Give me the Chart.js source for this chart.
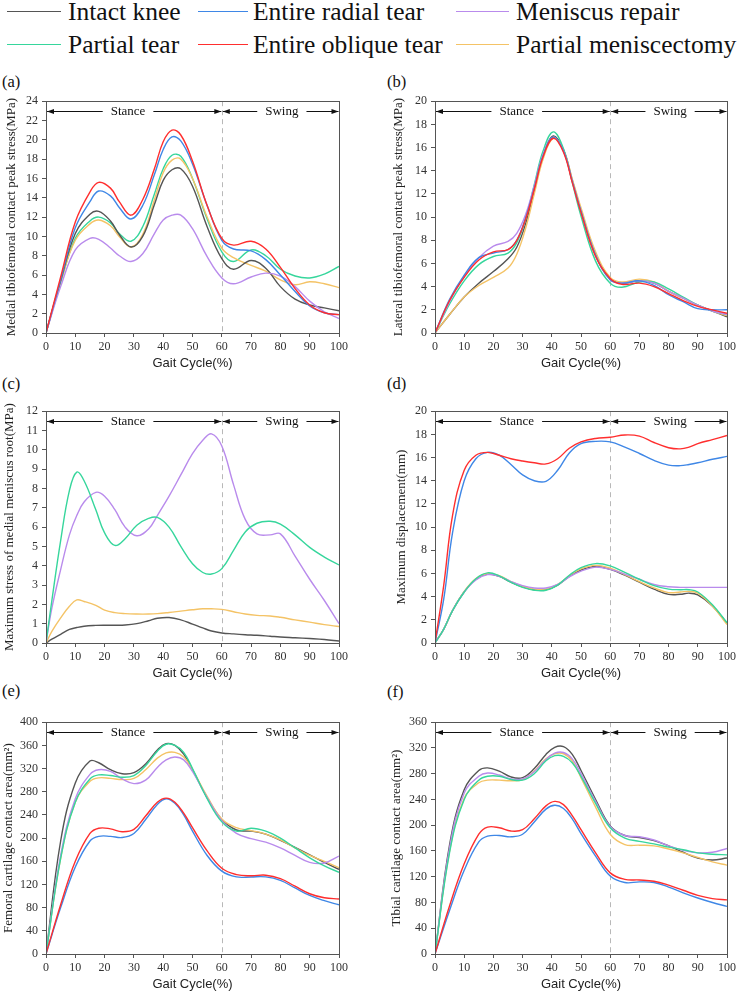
<!DOCTYPE html>
<html><head><meta charset="utf-8">
<script src="https://cdn.jsdelivr.net/npm/chart.js@4.4.0/dist/chart.umd.min.js"></script>
<style>
body{margin:0;background:#fff;width:739px;height:992px;position:relative;overflow:hidden;font-family:'Liberation Serif','Times New Roman',serif;}
.lg{position:absolute;font-size:25.5px;line-height:25.5px;color:#111;white-space:nowrap;}
.ln{position:absolute;height:0;border-top:1.5px solid;}
.pl{position:absolute;font-size:16.5px;line-height:16.5px;color:#111;}
canvas{position:absolute;}
</style></head><body>
<div id="legend"></div>
<div class="pl" style="left:2px;top:74px">(a)</div>
<div class="pl" style="left:387px;top:74px">(b)</div>
<div class="pl" style="left:2px;top:376px">(c)</div>
<div class="pl" style="left:387px;top:376px">(d)</div>
<div class="pl" style="left:2px;top:683px">(e)</div>
<div class="pl" style="left:387px;top:684px">(f)</div>
<canvas id="ca" width="370" height="285" style="left:0;top:90px"></canvas>
<canvas id="cb" width="354" height="285" style="left:385px;top:90px"></canvas>
<canvas id="cc" width="370" height="285" style="left:0;top:400px"></canvas>
<canvas id="cd" width="354" height="285" style="left:385px;top:400px"></canvas>
<canvas id="ce" width="370" height="285" style="left:0;top:711px"></canvas>
<canvas id="cf" width="354" height="285" style="left:385px;top:711px"></canvas>
<script>
// ---- series ----
const seriesNames = ['Intact knee','Entire radial tear','Meniscus repair','Partial tear','Entire oblique tear','Partial meniscectomy'];
const seriesColors = ['#555555','#3f87e6','#b98bec','#36d69c','#ff2e2e','#f4c366'];

// ---- x categories (gait cycle %) ----
const gridA = [0,5,10,15,18,22,25,29,33,37,40,43,46,50,55,60,64,70,75,80,85,90,95,100];
const gridB = [0,5,10,15,20,25,28,31,34,37,40.5,44,47,50,55,60,64,70,75,80,85,90,95,100];
const gridC = [0,2,5,8,10.5,13,17,20,23.5,27,31,35,38,42,46,50,53.5,56.5,60,64,68,72,76.5,80,85,90,95,100];
const gridD = [0,3,6,10,14,18,22,26,30,34,38,42,46,50,55,60,65,70,75,80,84,87,90,95,100];
const gridE = [0,5,10,15,18,22,26,30,34,38,41,44,47,50,55,60,65,70,75,80,85,90,95,100];
const gridF = [0,5,10,15,18,22,26,30,34,38,41,44,47,50,55,60,65,70,75,80,85,90,95,100];

// (a) Medial tibiofemoral contact peak stress (MPa)
const aIntact  = [0,5.4,10.3,12.3,12.6,11.6,10.2,8.9,10.0,13.3,15.8,16.9,17.0,15.2,11.0,7.7,6.6,7.5,6.7,4.8,3.5,2.9,2.6,2.3];
const aRadial  = [0,5.5,10.9,13.6,14.7,14.2,13.0,11.8,13.2,16.4,19.0,20.3,19.9,17.5,13.2,9.6,8.7,8.5,7.6,6.0,4.3,2.8,2.1,1.9];
const aRepair  = [0,4.8,8.6,9.8,9.7,8.8,8.0,7.4,8.2,10.3,11.7,12.2,12.2,10.8,7.9,5.7,5.1,5.8,6.2,5.9,4.8,3.3,2.2,1.5];
const aPartial = [0,5.2,9.8,11.6,12.0,11.4,10.3,9.5,11.0,14.4,17.0,18.4,18.3,16.0,11.8,8.4,7.4,8.6,8.0,6.6,5.9,5.7,6.1,6.9];
const aOblique = [0,5.8,11.5,14.6,15.6,15.0,13.6,12.2,13.8,17.0,19.8,21.0,20.5,17.8,13.2,9.8,9.1,9.5,8.7,6.8,4.6,2.9,2.1,1.9];
const aMenisc  = [0,5.3,9.6,11.3,11.7,11.1,10.0,8.9,10.2,13.8,16.6,17.9,18.0,16.0,12.0,8.8,7.8,7.0,6.4,5.5,5.0,5.3,5.1,4.7];

// (b) Lateral tibiofemoral contact peak stress (MPa)
const bIntact  = [0,1.6,3.1,4.3,5.3,6.4,7.4,9.4,12.3,15.2,17.0,15.8,13.2,10.6,6.8,4.7,4.3,4.5,4.3,3.6,3.0,2.4,1.9,1.4];
const bRadial  = [0,2.9,5.0,6.5,6.9,7.2,8.0,9.9,12.5,15.3,16.9,15.7,13.1,10.5,6.7,4.6,4.3,4.5,4.1,3.3,2.7,2.1,2.0,2.0];
const bRepair  = [0,2.7,4.9,6.5,7.5,7.9,8.6,10.2,12.7,15.4,16.9,15.7,13.1,10.5,6.7,4.6,4.3,4.5,4.3,3.6,3.0,2.4,1.9,1.6];
const bPartial = [0,2.5,4.5,5.9,6.6,6.9,7.8,9.8,12.8,15.7,17.35,15.9,13.0,10.1,6.2,4.3,3.95,4.4,4.4,3.8,3.1,2.4,1.9,1.6];
const bOblique = [0,2.8,4.8,6.3,7.0,7.2,8.0,9.8,12.4,15.2,16.8,15.6,13.0,10.4,6.6,4.7,4.2,4.3,4.0,3.4,2.8,2.3,2.0,1.7];
const bMenisc  = [0,1.6,3.1,4.1,4.8,5.6,6.8,9.0,12.0,15.0,16.8,15.8,13.3,10.8,7.0,4.8,4.4,4.65,4.4,3.6,3.0,2.4,1.9,1.5];

// (c) Maximum stress of medial meniscus root (MPa)
const cIntact  = [0,0.2,0.45,0.7,0.8,0.87,0.91,0.92,0.92,0.93,1.0,1.15,1.28,1.32,1.2,0.98,0.78,0.62,0.52,0.47,0.43,0.4,0.35,0.31,0.27,0.23,0.18,0.1];
const cRepair  = [0,1.8,3.8,5.6,6.6,7.3,7.8,7.6,6.9,6.0,5.55,5.9,6.6,7.6,8.7,9.8,10.5,10.83,10.2,8.2,6.4,5.65,5.6,5.65,4.5,3.3,2.2,1.0];
const cPartial = [0,2.2,5.3,7.9,8.85,8.4,6.9,5.7,5.05,5.4,6.1,6.45,6.5,6.0,5.0,4.1,3.65,3.57,3.85,4.8,5.75,6.2,6.3,6.15,5.6,4.95,4.45,4.04];
const cMenisc  = [0,0.6,1.3,1.9,2.23,2.15,1.95,1.7,1.57,1.52,1.5,1.5,1.52,1.58,1.65,1.72,1.77,1.77,1.74,1.62,1.5,1.43,1.4,1.33,1.2,1.08,0.95,0.85];

// (d) Maximum displacement (mm)
const dIntact  = [0,1.2,2.8,4.4,5.5,5.95,5.75,5.25,4.85,4.6,4.6,5.0,5.75,6.3,6.6,6.35,5.85,5.25,4.65,4.2,4.2,4.3,4.15,3.2,1.7];
const dRadial  = [0,3.8,9.5,14.0,15.9,16.45,16.2,15.4,14.5,14.0,13.95,14.9,16.4,17.2,17.4,17.35,16.9,16.35,15.75,15.35,15.3,15.4,15.55,15.85,16.1];
const dRepair  = [0,1.2,2.8,4.4,5.45,5.9,5.75,5.3,4.95,4.75,4.75,5.05,5.7,6.2,6.55,6.35,5.95,5.5,5.05,4.85,4.8,4.8,4.8,4.8,4.8];
const dPartial = [0,1.2,2.8,4.4,5.55,6.05,5.8,5.25,4.8,4.55,4.55,5.0,5.85,6.5,6.85,6.65,6.1,5.5,4.95,4.65,4.6,4.6,4.4,3.3,1.75];
const dOblique = [0,5.0,11.0,14.9,16.2,16.45,16.2,15.9,15.7,15.55,15.45,15.9,16.8,17.35,17.65,17.75,17.95,17.85,17.3,16.85,16.75,16.9,17.2,17.55,17.9];
const dMenisc  = [0,1.2,2.8,4.45,5.55,6.0,5.8,5.3,4.9,4.65,4.65,5.05,5.8,6.4,6.7,6.45,5.9,5.3,4.75,4.35,4.4,4.45,4.3,3.2,1.6];

// (e) Femoral cartilage contact area (mm²)
const eIntact  = [0,195,295,333,330,318,311,313,328,352,363,360,345,318,270,232,214,212,207,196,184,171,158,146];
const eRadial  = [0,80,150,195,203,203,201,208,232,258,268,260,240,212,170,143,133,133,133,127,114,101,92,85];
const eRepair  = [0,170,268,310,318,315,302,294,300,322,335,340,335,315,270,230,208,199,193,183,170,158,157,169];
const ePartial = [0,165,262,302,309,308,305,308,325,350,362,360,348,320,268,228,212,217,212,200,183,166,152,141];
const eOblique = [0,85,160,208,217,216,211,215,238,262,269,262,243,218,178,148,137,135,136,130,117,104,97,95];
const eMenisc  = [0,165,262,298,304,303,301,303,318,338,347,348,340,318,272,233,218,213,207,197,183,170,160,149];

// (f) Tibial cartilage contact area (mm²)
const fIntact  = [0,170,255,285,289,284,275,274,288,310,321,322,310,285,240,199,184,181,176,168,158,149,146,149];
const fRadial  = [0,68,130,174,183,184,182,186,205,225,231,226,210,187,152,121,111,112,111,104,95,87,80,74];
const fRepair  = [0,165,250,276,281,278,272,272,283,302,312,313,303,280,237,198,184,182,177,168,161,157,158,164];
const fPartial = [0,158,240,270,276,276,271,270,280,300,308,307,297,276,234,196,180,175,171,166,162,157,155,154];
const fOblique = [0,75,140,186,197,196,191,193,210,230,237,232,215,193,157,126,116,115,113,107,99,91,86,84];
const fMenisc  = [0,160,242,266,270,270,269,271,284,303,311,311,300,274,228,186,170,169,168,163,157,150,143,138];

// ---- axis ticks ----
const xTicks = [0,10,20,30,40,50,60,70,80,90,100];
const phaseBoundary = 60;

// ---- legend ----
(function(){
  const lg = document.getElementById('legend');
  const cols = [{lx:7,lw:54,tx:68},{lx:198,lw:50,tx:253},{lx:456,lw:53,tx:516}];
  const rows = [{ly:11,ty:-1.4},{ly:44,ty:31.6}];
  const order = [[0,1,2],[3,4,5]];
  order.forEach((r,ri)=>r.forEach((si,ci)=>{
    const l=document.createElement('div'); l.className='ln';
    l.style.cssText=`left:${cols[ci].lx}px;top:${rows[ri].ly}px;width:${cols[ci].lw}px;border-color:${seriesColors[si]}`;
    lg.appendChild(l);
    const t=document.createElement('div'); t.className='lg'; t.textContent=seriesNames[si];
    t.style.left=cols[ci].tx+'px'; t.style.top=rows[ri].ty+'px';
    lg.appendChild(t);
  }));
})();

function drawArrow(ctx,x1,x2,y,label,cx){
  ctx.font='13px "Liberation Serif"';
  const w=ctx.measureText(label).width, g=8, h=7, hh=2.5;
  ctx.strokeStyle='#111'; ctx.fillStyle='#111'; ctx.lineWidth=1;
  ctx.beginPath();
  ctx.moveTo(x1,y); ctx.lineTo(cx-w/2-g,y);
  ctx.moveTo(cx+w/2+g,y); ctx.lineTo(x2,y);
  ctx.stroke();
  ctx.beginPath(); ctx.moveTo(x1,y); ctx.lineTo(x1+h,y-hh); ctx.lineTo(x1+h,y+hh); ctx.closePath(); ctx.fill();
  ctx.beginPath(); ctx.moveTo(x2,y); ctx.lineTo(x2-h,y-hh); ctx.lineTo(x2-h,y+hh); ctx.closePath(); ctx.fill();
  ctx.textAlign='center'; ctx.textBaseline='middle';
  ctx.fillText(label,cx,y+0.5);
}

const deco = {
  id:'deco',
  beforeDatasetsDraw(chart){
    const {ctx, chartArea:a, scales:{x}} = chart;
    const xp = Math.round(x.getPixelForValue(phaseBoundary))+0.5;
    ctx.save();
    ctx.strokeStyle='#b8b8b8'; ctx.lineWidth=1; ctx.setLineDash([5,4]);
    ctx.beginPath(); ctx.moveTo(xp,a.top); ctx.lineTo(xp,a.bottom); ctx.stroke();
    ctx.restore();
  },
  afterDatasetsDraw(chart){
    const {ctx, chartArea:a, scales:{x}} = chart;
    const xp = x.getPixelForValue(phaseBoundary);
    ctx.save();
    ctx.strokeStyle='#555'; ctx.lineWidth=1;
    ctx.strokeRect(Math.round(a.left)+0.5, Math.round(a.top)+0.5, Math.round(a.right-a.left), Math.round(a.bottom-a.top));
    const y = Math.round(a.top)+10.5;
    drawArrow(ctx, x.getPixelForValue(0)+1, xp-0.5, y, 'Stance', x.getPixelForValue(28));
    drawArrow(ctx, xp+1, x.getPixelForValue(100)-0.5, y, 'Swing', x.getPixelForValue(80.5));
    ctx.restore();
  }
};

function makeChart(id, grid, list, yMax, yStep, yTitle, yWidth, titlePad){
  const datasets = list.map(([si,vals])=>({
    label: seriesNames[si],
    data: grid.map((xv,i)=>({x:xv,y:vals[i]})),
    borderColor: seriesColors[si],
    borderWidth: 1.4,
    pointRadius: 0,
    tension: 0.4,
    fill:false
  }));
  const tickFont = {family:'Liberation Serif', size:12};
  return new Chart(document.getElementById(id), {
    type:'line',
    data:{datasets},
    plugins:[deco],
    options:{
      responsive:false, animation:false, devicePixelRatio:1,
      layout:{padding:{left:0, top:8, right: (id==='ca'||id==='cc'||id==='ce')?31:12, bottom:0}},
      plugins:{legend:{display:false}, tooltip:{enabled:false}},
      scales:{
        x:{type:'linear', min:0, max:100,
           afterBuildTicks(s){ s.ticks = xTicks.map(v=>({value:v})); },
           ticks:{color:'#333', font:tickFont, padding:3, maxRotation:0, autoSkip:false},
           grid:{drawOnChartArea:false, drawTicks:true, tickLength:4, color:'#555'},
           border:{display:true, color:'#555'},
           title:{display:true, text:'Gait Cycle(%)', color:'#222', font:{family:'Liberation Sans', size:13}, padding:{top:0,bottom:4}},
           afterFit(s){ s.height = 42; }
        },
        y:{min:0, max:yMax,
           ticks:{stepSize:yStep, color:'#333', font:tickFont, padding:4},
           grid:{drawOnChartArea:false, drawTicks:true, tickLength:4, color:'#555'},
           border:{display:true, color:'#555'},
           title:{display:true, text:yTitle, color:'#222', font:{family:'Liberation Serif', size:13}, padding:{top:titlePad,bottom:0}},
           afterFit(s){ s.width = yWidth; }
        }
      }
    }
  });
}

makeChart('ca', gridA, [[3,aPartial],[5,aMenisc],[0,aIntact],[2,aRepair],[1,aRadial],[4,aOblique]].reverse(), 24, 2, 'Medial tibiofemoral contact peak stress(MPa)', 46, 4);
makeChart('cb', gridB, [[0,bIntact],[5,bMenisc],[3,bPartial],[2,bRepair],[1,bRadial],[4,bOblique]].reverse(), 20, 2, 'Lateral tibiofemoral contact peak stress(MPa)', 50, 6);
makeChart('cc', gridC, [[0,cIntact],[5,cMenisc],[2,cRepair],[3,cPartial]].reverse(), 12, 1, 'Maximum stress of medial meniscus root(MPa)', 46, 2);
makeChart('cd', gridD, [[0,dIntact],[5,dMenisc],[2,dRepair],[3,dPartial],[1,dRadial],[4,dOblique]].reverse(), 20, 2, 'Maximum displacement(mm)', 50, 9);
makeChart('ce', gridE, [[0,eIntact],[5,eMenisc],[2,eRepair],[3,ePartial],[1,eRadial],[4,eOblique]].reverse(), 400, 40, 'Femoral cartilage contact area(mm\u00B2)', 46, 1);
makeChart('cf', gridF, [[0,fIntact],[5,fMenisc],[2,fRepair],[3,fPartial],[1,fRadial],[4,fOblique]].reverse(), 360, 40, 'Tibial cartilage contact area(mm\u00B2)', 50, 4);
</script>
</body></html>
